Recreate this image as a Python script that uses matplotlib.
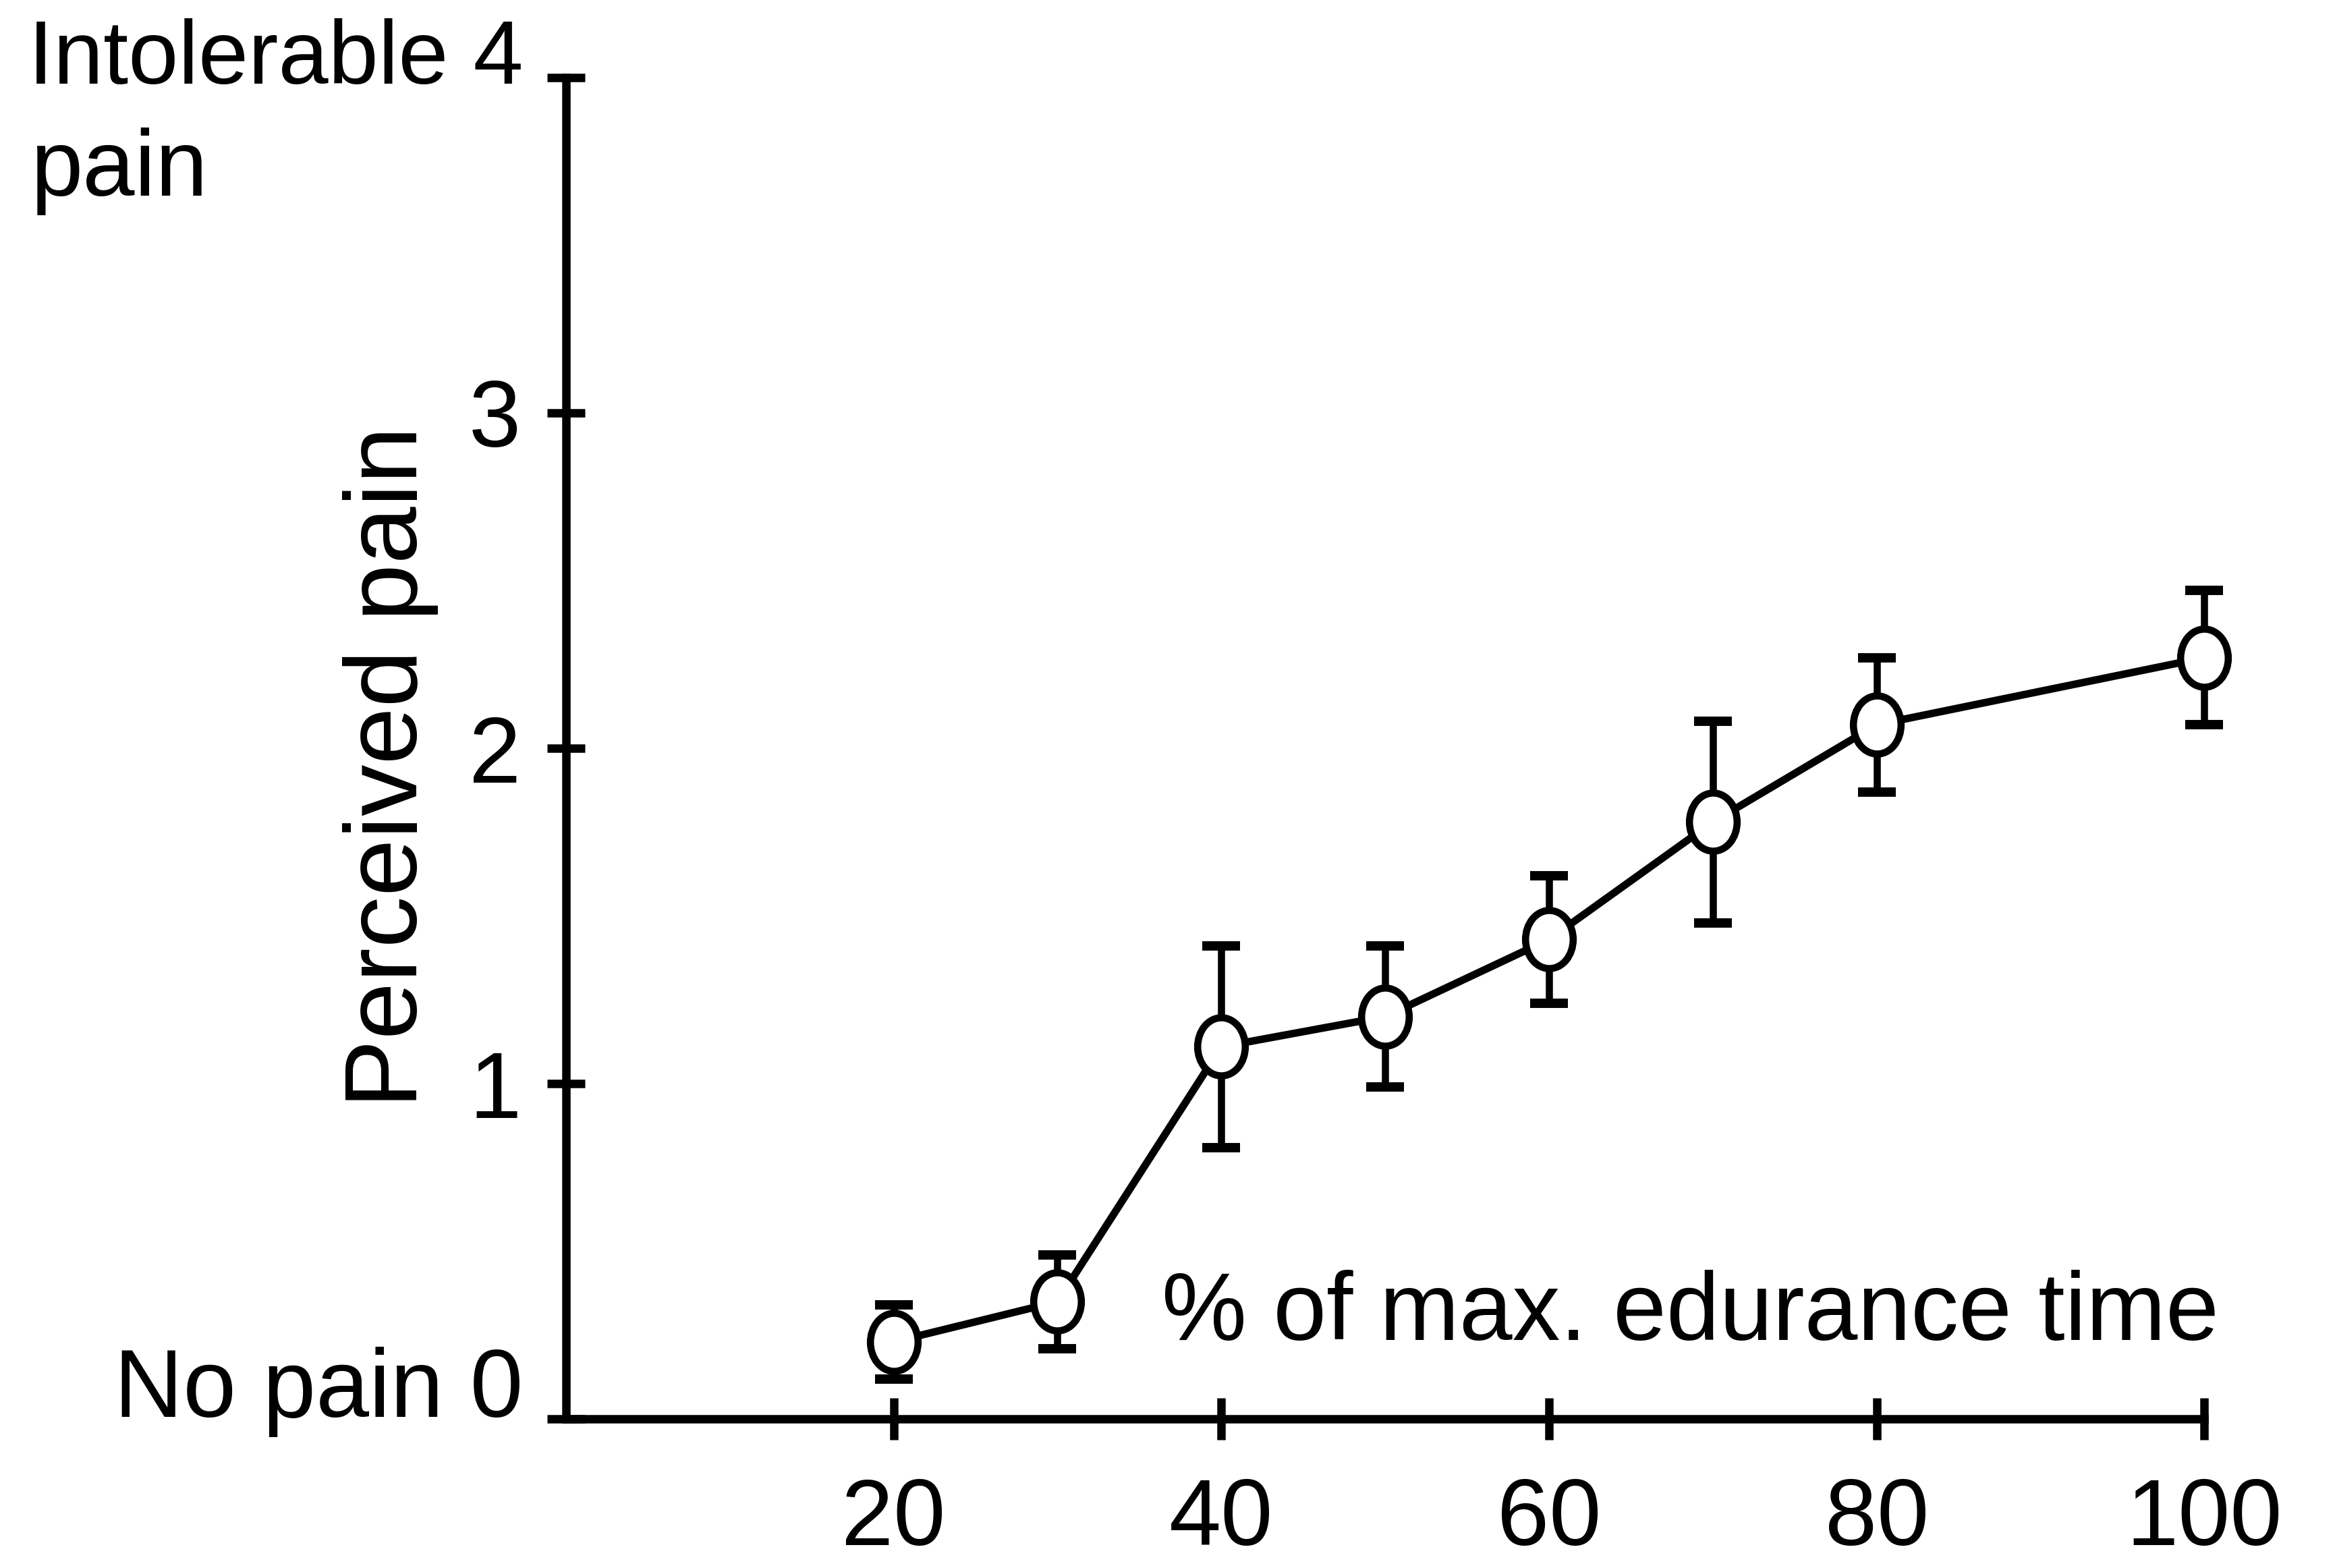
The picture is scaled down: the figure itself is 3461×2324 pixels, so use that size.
import numpy as np
import matplotlib.pyplot as plt
from matplotlib.path import Path
from matplotlib.transforms import Affine2D, blended_transform_factory

plt.rcParams['font.family'] = ['Liberation Sans', 'DejaVu Sans']

# values
endurance = [20, 30, 40, 50, 60, 70, 80, 100]
pain = [0.23, 0.35, 1.11, 1.20, 1.43, 1.78, 2.07, 2.27]
pain_err = [0.11, 0.14, 0.30, 0.21, 0.19, 0.30, 0.20, 0.20]
x_ticks = [20, 40, 60, 80, 100]
y_ticks = [0, 1, 2, 3, 4]
y_ticklabels = ['', '1', '2', '3', '']

fig = plt.figure(figsize=(17.31, 11.62), dpi=200)
ax = fig.add_axes([0.2423, 0.095, 0.7015, 0.8556])

# slightly tall open circles like the scan
oval = Path.unit_circle().transformed(Affine2D().scale(0.82, 1.0))

ax.errorbar(endurance, pain, yerr=pain_err, fmt='none', ecolor='black',
            elinewidth=3.8, capsize=10, capthick=5, clip_on=False, zorder=2)
ax.plot(endurance, pain, color='black', lw=4, marker=oval, markersize=31,
        mfc='white', mec='black', mew=3.8, clip_on=False, zorder=3)

ax.set_xlim(0, 100)
ax.set_ylim(0, 4)
ax.set_xticks(x_ticks)
ax.set_yticks(y_ticks)
ax.set_yticklabels(y_ticklabels)

for side in ['top', 'right']:
    ax.spines[side].set_visible(False)
for side in ['left', 'bottom']:
    ax.spines[side].set_linewidth(4.5)

ax.tick_params(axis='y', direction='inout', length=20, width=4.5, labelsize=50, pad=14)
ax.tick_params(axis='x', direction='inout', length=22, width=4.5, labelsize=50, pad=20)

tr = blended_transform_factory(ax.transAxes, ax.transData)
ax.text(-0.026, 4.05, 'Intolerable 4', transform=tr, ha='right', va='center', fontsize=48)
ax.text(-0.327, 3.72, 'pain', transform=tr, ha='left', va='center', fontsize=50)
ax.text(-0.026, 0.08, 'No pain 0', transform=tr, ha='right', va='center', fontsize=51)

ax.text(-0.107, 0.486, 'Perceived pain', transform=ax.transAxes, rotation=90,
        ha='center', va='center', fontsize=55)
ax.text(100.9, 0.31, '% of max. edurance time', ha='right', va='center', fontsize=51)

fig.savefig('out.png', dpi=200)
